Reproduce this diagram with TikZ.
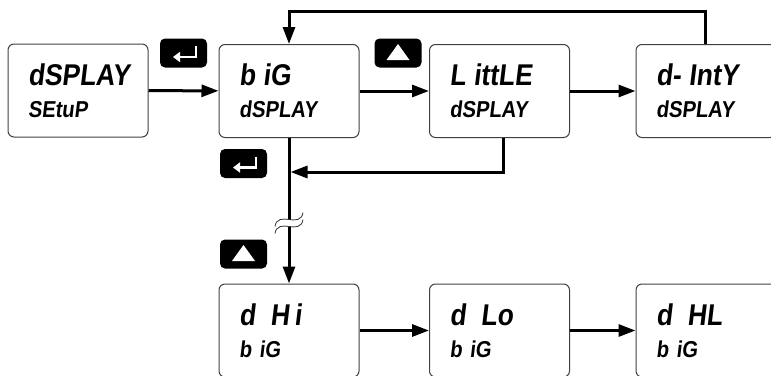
\documentclass[tikz,border=0pt]{standalone}
\usepackage{fontspec}
\usepackage{tikz}
\usetikzlibrary{arrows.meta}
\newfontfamily\lcd{Liberation Sans}[FakeSlant=0.12, FakeStretch=0.88]
\newcommand{\lcdtwo}[2]{{\fontsize{30}{32}\selectfont #1}\\#2}

\begin{document}
\begin{tikzpicture}[x=1pt, y=-1pt,
    disp/.style={draw=black!75, line width=1pt, rounded corners=6pt,
      minimum width=140pt, minimum height=93pt, text width=100pt,
      align=left, inner sep=0pt,
      font=\lcd\bfseries\fontsize{23}{32}\selectfont},
    key/.style={fill=black, rounded corners=5pt, minimum width=47pt,
      minimum height=29pt, inner sep=0pt},
    flow/.style={line width=3pt, -{Triangle[length=17pt, width=12pt]}},
    sym/.style={white, line width=2.8pt}]
        \useasboundingbox (0,0) rectangle (771,375);

        % top row
        \node[disp] (setup) at (78,90.5) {\lcdtwo{dSPLAY}{SEtuP}};
        \node[disp] (big) at (289,91) {\lcdtwo{b iG}{dSPLAY}};
        \node[disp] (little) at (499.5,91) {\lcdtwo{L ittLE}{dSPLAY}};
        \node[disp] (inty) at (706,91) {\lcdtwo{d- IntY}{dSPLAY}};

        % bottom row
        \node[disp] (dhi) at (289,330.5) {\lcdtwo{d\enspace H\,i}{b iG}};
        \node[disp] (dlo) at (499.5,330.5) {\lcdtwo{d\enspace Lo}{b iG}};
        \node[disp] (dhl) at (706,330.5) {\lcdtwo{d\enspace HL}{b iG}};

        % keys
        \node[key] (enterA) at (183.5,53) {};
        \node[key] (upA) at (398,53) {};
        \node[key] (enterB) at (243.5,163.5) {};
        \node[key] (upB) at (243.5,254) {};
        \foreach \k in {enterA, enterB} {
          \draw[sym, -{Triangle[length=7pt, width=10pt]}]
            ([shift={(12.5,-7)}]\k.center) -- ++(0,11) -- ++(-23,0);
        }
        \foreach \k in {upA, upB} {
          \fill[white] ([shift={(-11.5,7)}]\k.center) -- ++(23,0)
            -- ++(-11.5,-16) -- cycle;
        }

        % connectors
        \draw[flow] (setup) -- (big);
        \draw[flow] (big) -- (little);
        \draw[flow] (little) -- (inty);
        \draw[flow] ([xshift=-1pt]inty.north) -- ++(0,-33) -| (big.north);
        \draw[flow] (big.south) -- (dhi.north);
        \coordinate (merge) at (290.5,172);
        \draw[flow] ([xshift=3.5pt]little.south) |- (merge);
        \draw[flow] (dhi) -- (dlo);
        \draw[flow] (dlo) -- (dhl);

        % break mark
        \coordinate (brk) at (289,223);
        \begin{scope}[shift={(brk)}]
          \draw[white, line width=6pt] (-14,7) .. controls (-13,-1) and (-6,-1) .. (0,0)
            .. controls (6,1) and (13,1) .. (14,-7);
          \foreach \dy in {-3.5, 3.5} {
            \draw[black!80, line width=0.8pt, yshift=\dy] (-14,7) .. controls (-13,-1) and (-6,-1) .. (0,0)
              .. controls (6,1) and (13,1) .. (14,-7);
          }
        \end{scope}
      \end{tikzpicture}
\end{document}
